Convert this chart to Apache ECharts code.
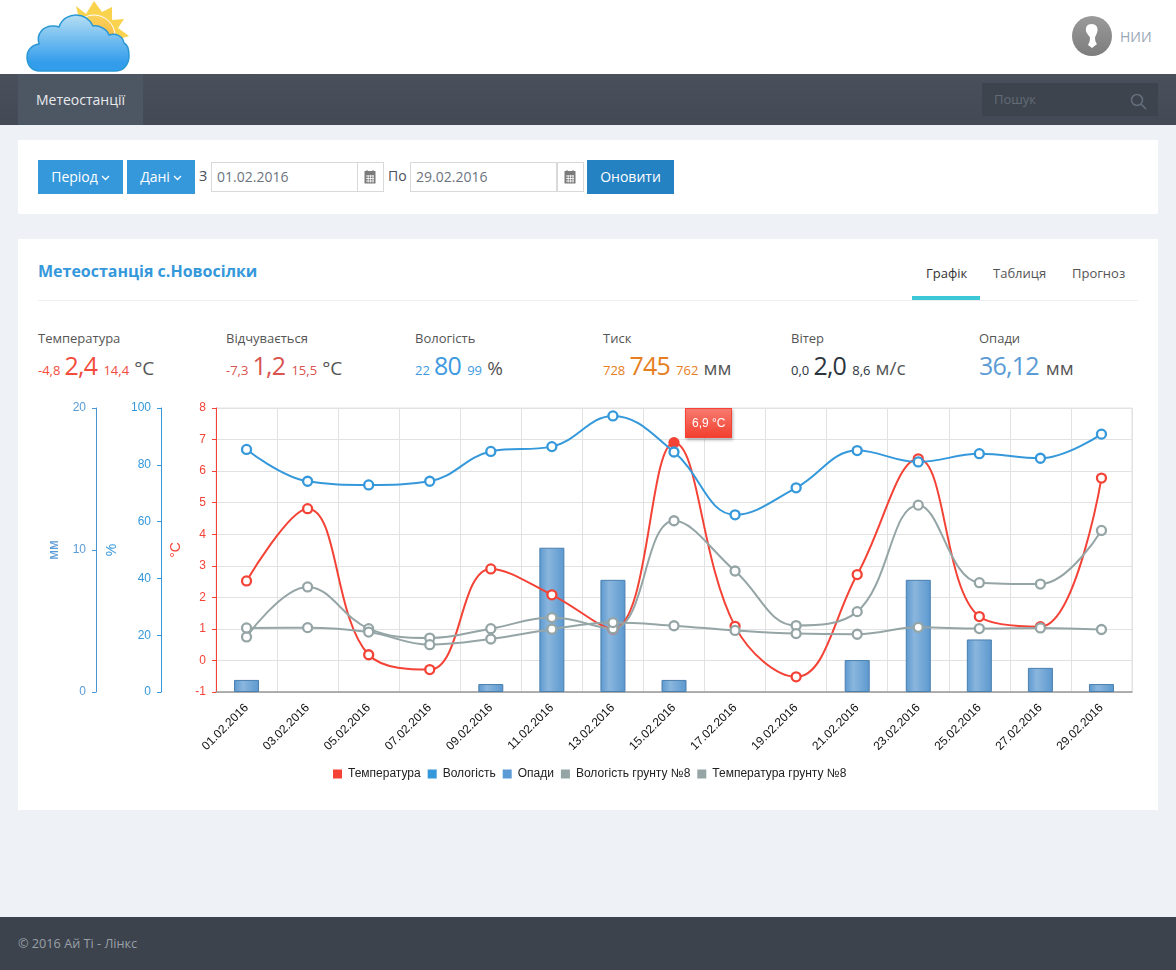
<!DOCTYPE html>
<html>
<head>
<meta charset="utf-8">
<title>Метеостанції</title>
<style>
html,body{margin:0;padding:0;}
body{width:1176px;height:970px;position:relative;overflow:hidden;background:#eef1f6;font-family:"Open Sans","Noto Sans",sans-serif;color:#4a505c;}
.abs,.abs *{box-sizing:border-box;}
.abs{position:absolute;}
.header{left:0;top:0;width:1176px;height:74px;background:#fff;}
.nav{left:0;top:74px;width:1176px;height:51px;background:linear-gradient(#4a505b,#444a55);}
.nav-item{left:18px;top:0;width:125px;height:51px;background:#4d5764;color:#e8eaec;font-size:14px;line-height:51px;text-align:center;}
.search{left:982px;top:9px;width:176px;height:33px;background:#3d444e;color:#626b76;font-size:13px;line-height:33px;padding-left:12px;}
.panel{background:#fff;left:18px;width:1140px;}
.btn{background:#3498db;color:#fff;font-size:14px;line-height:34px;height:34px;top:160px;text-align:center;}
.btn svg{margin-left:3px;vertical-align:1px;}
.input{top:162px;height:30px;border:1px solid #d9d9d9;background:#fff;font-size:14px;line-height:28px;color:#6c7480;padding-left:5px;}
.cal{top:162px;height:30px;width:27px;border:1px solid #d9d9d9;background:#fff;}
.lbl{top:166px;font-size:14px;line-height:20px;color:#4a505c;}
.tab{top:264px;font-size:13px;line-height:18px;color:#555;}
.stat{top:329px;height:50px;white-space:nowrap;}
.stat .cap{font-size:13px;line-height:18px;color:#555;display:block;}
.stat .vals{display:block;line-height:32px;margin-top:2px;}
.s{font-size:13px;}
.b{font-size:25px;letter-spacing:-0.800px;margin-right:2px;}
.u{font-size:19px;color:#555;margin-left:1px;}
#chart{left:18px;top:395px;width:1140px;height:405px;}
.footer{left:0;top:917px;width:1176px;height:53px;background:#3c434d;color:#9aa0a8;font-size:12.700px;line-height:53px;padding-left:18px;}
</style>
</head>
<body>
<div class="abs header">
  <svg class="abs" style="left:24px;top:0" width="110" height="74" viewBox="0 0 110 74">
    <defs>
      <linearGradient id="cl" x1="0" y1="0" x2="0" y2="1"><stop offset="0" stop-color="#b5def3"/><stop offset="0.85" stop-color="#339dec"/><stop offset="1" stop-color="#339dec"/></linearGradient>
      <linearGradient id="sn" x1="0" y1="0" x2="0" y2="1"><stop offset="0" stop-color="#fbd35c"/><stop offset="1" stop-color="#f6a42e"/></linearGradient>
    </defs>
    <polygon fill="#f9d24e" points="52,6 62,14 70,1 78,12 88,7 88,20 100,19 94,28 105,36 92,40 60,40"/>
    <circle cx="70" cy="36" r="21" fill="url(#sn)" stroke="#fff" stroke-width="1"/>
    <path fill="url(#cl)" stroke="#2a98d4" stroke-width="1.500" d="M16,71 C6,71 3,63 3,57 C3,50 8,45 15,44 C12,34 19,26 29,26 C33,26 35,27 35,27 C38,18 46,15 52,15 C60,15 66,20 69,26 C75,25 83,29 85,35 C92,33 99,36 100,43 C105,45 105,52 105,56 C105,65 99,71 91,71 Z"/>
  </svg>
  <svg class="abs" style="left:1072px;top:16px" width="40" height="40" viewBox="0 0 40 40">
    <defs><linearGradient id="av" x1="0" y1="0" x2="0" y2="1"><stop offset="0" stop-color="#9a9a9a"/><stop offset="1" stop-color="#7d7d7d"/></linearGradient></defs>
    <circle cx="20" cy="20" r="20" fill="url(#av)"/>
    <path fill="#fff" d="M19.500,8 C24,8 26,11 25.500,15 C25,18 23,20 23,22 C23,25 24,27 25,28 L20,32 L16,29 C17,27 18,25 18,22 C18,20 14.500,18 14,15 C13.500,11 15,8 19.500,8 Z"/>
  </svg>
  <div class="abs" style="left:1120px;top:27px;font-size:14px;line-height:20px;color:#98a6b5">НИИ</div>
</div>
<div class="abs nav">
  <div class="abs nav-item">Метеостанції</div>
  <div class="abs search">Пошук</div>
  <svg class="abs" style="left:1130px;top:19px" width="18" height="18" viewBox="0 0 18 18" fill="none" stroke="#66707c" stroke-width="1.500"><circle cx="7" cy="7" r="5.500"/><path d="M11,11 L16,16"/></svg>
</div>

<div class="abs panel" style="top:140px;height:74px"></div>
<div class="abs btn" style="left:38px;width:85px">Період<svg width="9" height="6" viewBox="0 0 9 6" fill="none" stroke="#fff" stroke-width="1.300"><path d="M1,1 L4.500,4.500 L8,1"/></svg></div>
<div class="abs btn" style="left:127px;width:68px">Дані<svg width="9" height="6" viewBox="0 0 9 6" fill="none" stroke="#fff" stroke-width="1.300"><path d="M1,1 L4.500,4.500 L8,1"/></svg></div>
<div class="abs lbl" style="left:199px">З</div>
<div class="abs input" style="left:211px;width:147px">01.02.2016</div>
<div class="abs cal" style="left:357px"></div>
<div class="abs lbl" style="left:388px">По</div>
<div class="abs input" style="left:410px;width:147px">29.02.2016</div>
<div class="abs cal" style="left:557px"></div>
<svg class="abs" style="left:364px;top:170px" width="12" height="14" viewBox="0 0 12 14"><rect x=".5" y="1" width="11" height="12.500" fill="#7a7a7a"/><path d="M2,6H10M2,8.500H10M2,11H10M4.200,5V12.500M6.600,5V12.500M9,5V12.500" stroke="#fff" stroke-width=".8"/><path d="M3,0V2.500M9,0V2.500" stroke="#7a7a7a"/></svg>
<svg class="abs" style="left:564px;top:170px" width="12" height="14" viewBox="0 0 12 14"><rect x=".5" y="1" width="11" height="12.500" fill="#7a7a7a"/><path d="M2,6H10M2,8.500H10M2,11H10M4.200,5V12.500M6.600,5V12.500M9,5V12.500" stroke="#fff" stroke-width=".8"/><path d="M3,0V2.500M9,0V2.500" stroke="#7a7a7a"/></svg>
<div class="abs btn" style="left:587px;width:87px;background:#2481c2">Оновити</div>

<div class="abs panel" style="top:239px;height:571px"></div>
<div class="abs" style="left:38px;top:260px;font-size:16px;line-height:22px;font-weight:700;color:#3498db">Метеостанція с.Новосілки</div>
<div class="abs tab" style="left:926px;color:#333">Графік</div>
<div class="abs tab" style="left:993px">Таблиця</div>
<div class="abs tab" style="left:1072px">Прогноз</div>
<div class="abs" style="left:38px;top:300px;width:1100px;height:1px;background:#eceef1"></div>
<div class="abs" style="left:912px;top:296px;width:68px;height:4px;background:#3cc8d7"></div>

<div class="abs stat" style="left:38px"><span class="cap">Температура</span><span class="vals" style="color:#f44c3c"><span class="s">-4,8</span> <span class="b">2,4</span> <span class="s">14,4</span> <span class="u">°C</span></span></div>
<div class="abs stat" style="left:226px"><span class="cap">Відчувається</span><span class="vals" style="color:#d9534f"><span class="s">-7,3</span> <span class="b">1,2</span> <span class="s">15,5</span> <span class="u">°C</span></span></div>
<div class="abs stat" style="left:415px"><span class="cap">Вологість</span><span class="vals" style="color:#3d9ae0"><span class="s">22</span> <span class="b">80</span> <span class="s">99</span> <span class="u">%</span></span></div>
<div class="abs stat" style="left:603px"><span class="cap">Тиск</span><span class="vals" style="color:#e67e22"><span class="s">728</span> <span class="b">745</span> <span class="s">762</span> <span class="u">мм</span></span></div>
<div class="abs stat" style="left:791px"><span class="cap">Вітер</span><span class="vals" style="color:#2c3440"><span class="s">0,0</span> <span class="b">2,0</span> <span class="s">8,6</span> <span class="u">м/с</span></span></div>
<div class="abs stat" style="left:979px"><span class="cap">Опади</span><span class="vals" style="color:#5b9bd5"><span class="b">36,12</span> <span class="u">мм</span></span></div>

<div class="abs" id="chart"></div>
<div class="abs footer">© 2016 Ай Ті - Лінкс</div>

<script src="https://cdn.jsdelivr.net/npm/echarts@6/dist/echarts.min.js"></script>
<script>
var dates = ['01.02.2016','03.02.2016','05.02.2016','07.02.2016','09.02.2016','11.02.2016','13.02.2016','15.02.2016','17.02.2016','19.02.2016','21.02.2016','23.02.2016','25.02.2016','27.02.2016','29.02.2016'];
var temperature = [2.52,4.81,0.18,-0.29,2.9,2.08,1.0,6.9,1.08,-0.52,2.72,6.39,1.39,1.07,5.78];
var humidity = [85.4,74.2,72.9,74.2,84.7,86.4,97.2,84.5,62.4,71.9,85.0,81.0,83.9,82.3,90.8];
var rain = [0.85,null,null,null,0.56,10.16,7.9,0.85,null,null,2.25,7.9,3.7,1.7,0.56];
var soilHumidity = [19.4,37.0,22.3,19.0,22.3,26.2,22.3,60.3,42.6,23.4,28.3,65.8,38.5,38.0,56.9];
var soilTemperature = [1.03,1.04,0.9,0.5,0.68,0.99,1.2,1.1,0.95,0.85,0.83,1.05,1.01,1.03,0.98];
var legendNames = ['Температура','Вологість','Опади','Вологість грунту №8','Температура грунту №8'];

var RED = '#f44336', BLUE = '#3498db', RAIN = '#5b9bd5', GREY = '#95a5a6', GRID = '#e2e2e2';
var hotIndex = 7;

function lineSeries(name, data, color, axis){
  return {
    name: name, type: 'line', data: data, yAxisIndex: axis, smooth: 0.4, z: 3,
    symbol: 'circle', symbolSize: 9,
    lineStyle: {color: color, width: 2},
    itemStyle: {color: '#fff', borderColor: color, borderWidth: 2.3},
    emphasis: {disabled: true}
  };
}
function yAxis(name, min, max, step, color, lineColor, offset, nameGap, grid){
  return {
    type: 'value', position: 'left', min: min, max: max, interval: step, offset: offset,
    name: name, nameLocation: 'middle', nameGap: nameGap, nameRotate: 90,
    nameTextStyle: {color: color, fontSize: 14, fontFamily: 'Liberation Sans'},
    axisLine: {show: true, lineStyle: {color: lineColor, width: 1}},
    axisTick: {show: true, length: 4, lineStyle: {color: lineColor}},
    axisLabel: {color: color, fontSize: 12, fontFamily: 'Liberation Sans', margin: 10},
    splitLine: {show: grid, lineStyle: {color: GRID, width: 1}}
  };
}

var tempSeries = lineSeries(legendNames[0], temperature.map(function(v, i){
  return i === hotIndex ? {value: v, symbolSize: 9, itemStyle: {color: RED, borderColor: RED}} : v;
}), RED, 0);

var chart = echarts.init(document.getElementById('chart'), null, {renderer: 'canvas'});
chart.setOption({
  animation: false,
  grid: {left: 198, top: 13, width: 916, height: 284, containLabel: false, show: true, borderColor: GRID, borderWidth: 1},
  tooltip: {
    trigger: 'item', alwaysShowContent: true, transitionDuration: 0, showDelay: 0,
    padding: [5, 6], borderWidth: 1, borderColor: '#f44336',
    textStyle: {color: '#fff', fontSize: 12, fontFamily: 'Liberation Sans'},
    backgroundColor: '#f44336',
    extraCssText: 'background:linear-gradient(#f77a6e,#f2402f)!important;border-radius:0;box-shadow:1px 2px 3px rgba(0,0,0,.3);',
    formatter: function(p){ return String(p.value).replace('.', ',') + ' °C'; },
    position: function(pt){ return [pt[0] + 11, 13]; }
  },
  legend: {
    data: legendNames.map(function(n, i){
      return {name: n, itemStyle: {color: [RED, BLUE, RAIN, GREY, GREY][i], borderWidth: 0}};
    }),
    left: 310, top: 368, icon: 'rect', itemWidth: 9, itemHeight: 9, itemGap: 7,
    textStyle: {color: '#222', fontSize: 12, fontFamily: 'Liberation Sans', padding: [0, 0, 0, 1]}
  },
  xAxis: {
    type: 'category', data: dates, boundaryGap: true,
    axisLine: {onZero: false, lineStyle: {color: '#999', width: 1.5}},
    axisTick: {alignWithLabel: false, length: 4, lineStyle: {color: '#999'}},
    axisLabel: {interval: 0, rotate: 45, color: '#111', fontSize: 12, fontFamily: 'Liberation Sans', margin: 14},
    splitLine: {show: true, interval: 0, lineStyle: {color: GRID, width: 1}}
  },
  yAxis: [
    yAxis('°C', -1, 8, 1, RED, RED, 0, 33, true),
    yAxis('%', 0, 100, 20, BLUE, BLUE, 55, 42, false),
    yAxis('мм', 0, 20, 10, RAIN, '#4a94d4', 120, 35, false)
  ],
  series: [
    tempSeries,
    lineSeries(legendNames[1], humidity, BLUE, 1),
    {
      name: legendNames[2], type: 'bar', data: rain, yAxisIndex: 2, barWidth: 25, z: 2,
      itemStyle: {
        borderColor: '#4a7fae', borderWidth: 1,
        color: new echarts.graphic.LinearGradient(0, 0, 1, 0, [
          {offset: 0, color: '#5b98cf'}, {offset: 0.35, color: '#8ab6dd'}, {offset: 1, color: '#5b98cf'}
        ])
      },
      emphasis: {disabled: true}
    },
    lineSeries(legendNames[3], soilHumidity, GREY, 1),
    lineSeries(legendNames[4], soilTemperature, GREY, 0)
  ]
});
chart.dispatchAction({type: 'showTip', seriesIndex: 0, dataIndex: hotIndex});
</script>
</body>
</html>
